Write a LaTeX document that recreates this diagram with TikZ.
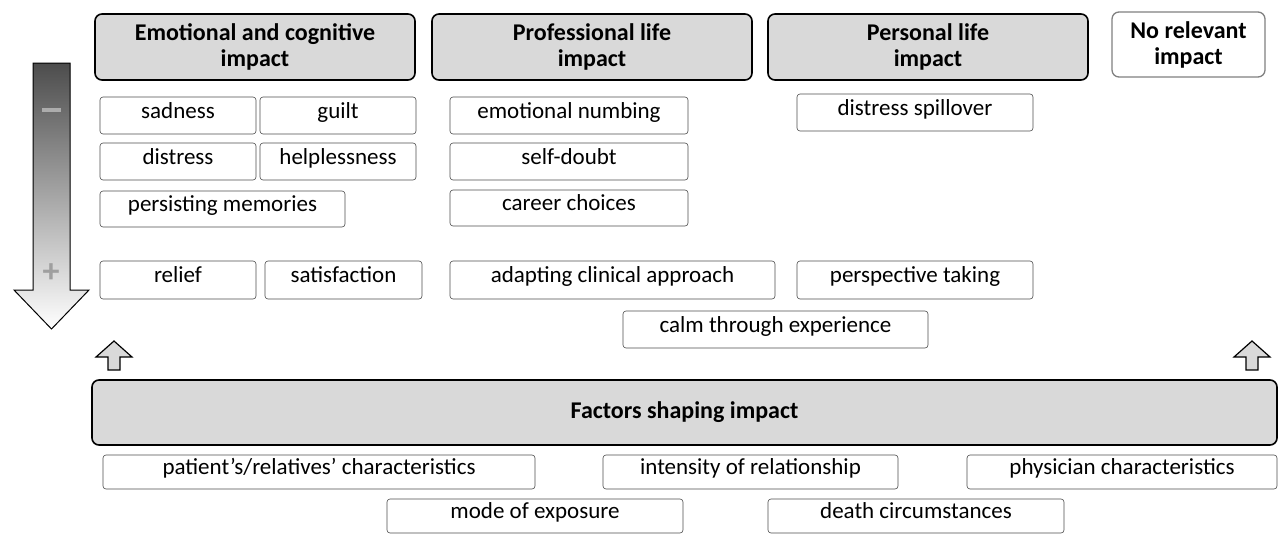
\documentclass[tikz,border=0pt]{standalone}
\usepackage{fontspec}
\setmainfont{Carlito}
\begin{document}
\begin{tikzpicture}[x=1pt,y=-1pt,
 hdr/.style={draw=black,line width=1.6pt,fill=gray!30,rounded corners=7pt},
 item/.style={draw=black!70,line width=0.6pt,rounded corners=3pt}]
\useasboundingbox (0,0) rectangle (1280,538);
\newcommand\bx[6]{\draw[#1] (#2,#3) rectangle (#4,#5) node[pos=0.5,font=\fontsize{23}{25}\selectfont,text height=1.6ex,text depth=0.45ex] (n#2#3) {#6};}
\newcommand\hb[6]{\draw[#1] (#2,#3) rectangle (#4,#5) node[pos=0.5,font=\bfseries\fontsize{24}{26}\selectfont,align=center] (h#2#3) {#6};}
\hb{hdr}{95}{14}{415}{80}{Emotional and cognitive\\impact}
\hb{hdr}{432}{14}{752}{80}{Professional life\\impact}
\hb{hdr}{768}{14}{1088}{80}{Personal life\\impact}
\hb{hdr,fill=white,draw=gray,line width=1.3pt}{1112}{12}{1265}{77}{No relevant\\impact}
\bx{item}{100}{97}{256}{134}{sadness}
\bx{item}{260}{97}{416}{134}{guilt}
\bx{item}{100}{143}{256}{180}{distress}
\bx{item}{260}{143}{416}{180}{helplessness}
\bx{item}{100}{191}{345}{227}{persisting memories}
\bx{item}{100}{261}{256}{299}{relief}
\bx{item}{265}{261}{422}{299}{satisfaction}
\bx{item}{450}{97}{688}{134}{emotional numbing}
\bx{item}{450}{143}{688}{180}{self-doubt}
\bx{item}{450}{190}{688}{226}{career choices}
\bx{item}{450}{261}{775}{299}{adapting clinical approach}
\bx{item}{797}{94}{1033}{131}{distress spillover}
\bx{item}{797}{261}{1033}{299}{perspective taking}
\bx{item}{623}{311}{928}{348}{calm through experience}
\hb{hdr}{92}{380}{1277}{445}{Factors shaping impact}
\bx{item}{103}{455}{535}{489}{patient’s/relatives’ characteristics}
\bx{item}{603}{455}{898}{489}{intensity of relationship}
\bx{item}{967}{455}{1277}{489}{physician characteristics}
\bx{item}{387}{499}{683}{533}{mode of exposure}
\bx{item}{768}{499}{1064}{533}{death circumstances}
% gradient arrow
\shade[top color=black!70,bottom color=white,draw=black,line width=1pt]
 (33,63) -- (70,63) -- (70,290) -- (89,290) -- (51.5,329) -- (14,290) -- (33,290) -- cycle;
\fill[gray!65] (42,108) rectangle (61,112);
\node[font=\bfseries\fontsize{34}{34}\selectfont,text=gray!75] (plus) at (51,273) {+};
% small up arrows
\foreach \cx in {114,1252}{
\draw[fill=gray!30,line width=1.2pt] (\cx-6,370) -- (\cx+6,370) -- (\cx+6,357) -- (\cx+18,357) -- (\cx,341) -- (\cx-18,357) -- (\cx-6,357) -- cycle;}
\end{tikzpicture}
\end{document}
